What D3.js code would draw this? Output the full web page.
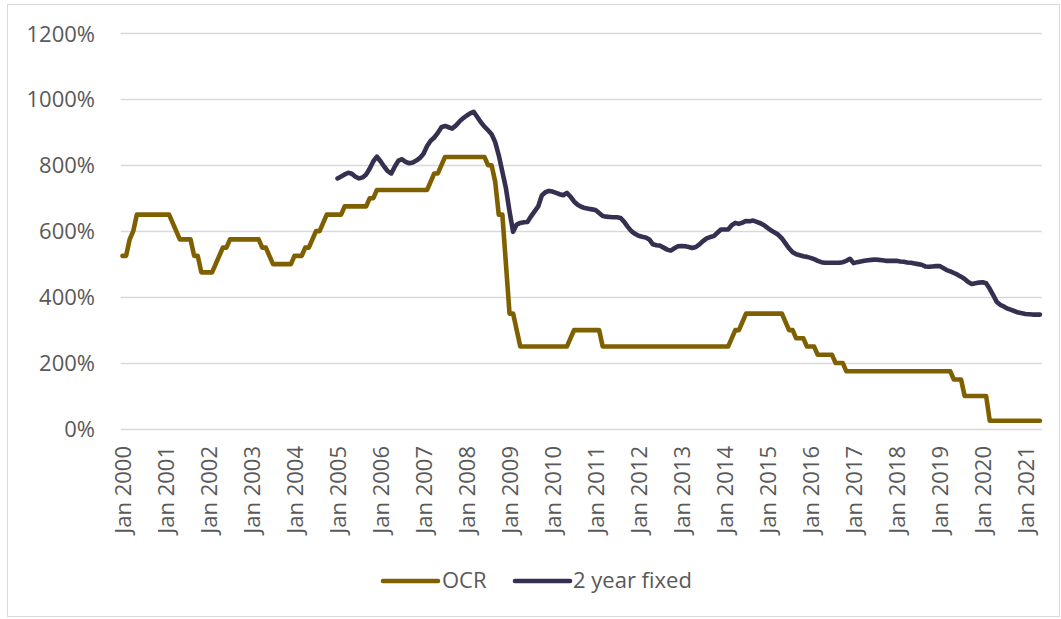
<!DOCTYPE html>
<html>
<head>
<meta charset="utf-8">
<script src="https://cdn.jsdelivr.net/npm/d3@7"></script>
<style>
  html, body { margin: 0; padding: 0; background: #fff; }
  svg { display: block; font-family: "Open Sans", "Noto Sans", sans-serif; }
</style>
</head>
<body>
<svg id="chart" width="1061" height="619"></svg>
<script>
// Monthly categories, Jan 2000 – May 2021
const monthNames = ["Jan","Feb","Mar","Apr","May","Jun","Jul","Aug","Sep","Oct","Nov","Dec"];
const startYear = 2000;
const monthCount = 257;
const months = d3.range(monthCount).map(i => `${monthNames[i % 12]} ${startYear + Math.floor(i / 12)}`);

// Axis tick labels
const xTickLabels = d3.range(2000, 2022).map(y => `Jan ${y}`);
const yTicks = [0, 2, 4, 6, 8, 10, 12];

// Official Cash Rate, one value per month
const ocr = [
  5.25, 5.25, 5.75, 6.00, 6.50, 6.50, 6.50, 6.50, 6.50, 6.50, 6.50, 6.50, // 2000
  6.50, 6.50, 6.25, 6.00, 5.75, 5.75, 5.75, 5.75, 5.25, 5.25, 4.75, 4.75, // 2001
  4.75, 4.75, 5.00, 5.25, 5.50, 5.50, 5.75, 5.75, 5.75, 5.75, 5.75, 5.75, // 2002
  5.75, 5.75, 5.75, 5.50, 5.50, 5.25, 5.00, 5.00, 5.00, 5.00, 5.00, 5.00, // 2003
  5.25, 5.25, 5.25, 5.50, 5.50, 5.75, 6.00, 6.00, 6.25, 6.50, 6.50, 6.50, // 2004
  6.50, 6.50, 6.75, 6.75, 6.75, 6.75, 6.75, 6.75, 6.75, 7.00, 7.00, 7.25, // 2005
  7.25, 7.25, 7.25, 7.25, 7.25, 7.25, 7.25, 7.25, 7.25, 7.25, 7.25, 7.25, // 2006
  7.25, 7.25, 7.50, 7.75, 7.75, 8.00, 8.25, 8.25, 8.25, 8.25, 8.25, 8.25, // 2007
  8.25, 8.25, 8.25, 8.25, 8.25, 8.25, 8.00, 8.00, 7.50, 6.50, 6.50, 5.00, // 2008
  3.50, 3.50, 3.00, 2.50, 2.50, 2.50, 2.50, 2.50, 2.50, 2.50, 2.50, 2.50, // 2009
  2.50, 2.50, 2.50, 2.50, 2.50, 2.75, 3.00, 3.00, 3.00, 3.00, 3.00, 3.00, // 2010
  3.00, 3.00, 2.50, 2.50, 2.50, 2.50, 2.50, 2.50, 2.50, 2.50, 2.50, 2.50, // 2011
  2.50, 2.50, 2.50, 2.50, 2.50, 2.50, 2.50, 2.50, 2.50, 2.50, 2.50, 2.50, // 2012
  2.50, 2.50, 2.50, 2.50, 2.50, 2.50, 2.50, 2.50, 2.50, 2.50, 2.50, 2.50, // 2013
  2.50, 2.50, 2.75, 3.00, 3.00, 3.25, 3.50, 3.50, 3.50, 3.50, 3.50, 3.50, // 2014
  3.50, 3.50, 3.50, 3.50, 3.50, 3.25, 3.00, 3.00, 2.75, 2.75, 2.75, 2.50, // 2015
  2.50, 2.50, 2.25, 2.25, 2.25, 2.25, 2.25, 2.00, 2.00, 2.00, 1.75, 1.75, // 2016
  1.75, 1.75, 1.75, 1.75, 1.75, 1.75, 1.75, 1.75, 1.75, 1.75, 1.75, 1.75, // 2017
  1.75, 1.75, 1.75, 1.75, 1.75, 1.75, 1.75, 1.75, 1.75, 1.75, 1.75, 1.75, // 2018
  1.75, 1.75, 1.75, 1.75, 1.50, 1.50, 1.50, 1.00, 1.00, 1.00, 1.00, 1.00, // 2019
  1.00, 1.00, 0.25, 0.25, 0.25, 0.25, 0.25, 0.25, 0.25, 0.25, 0.25, 0.25, // 2020
  0.25, 0.25, 0.25, 0.25, 0.25                                            // 2021
];

// Two-year fixed mortgage rate, monthly from Jan 2005
const twoYearStart = "Jan 2005";
const twoYearFixed = [
  7.60, 7.66, 7.72, 7.77, 7.74, 7.65, 7.60, 7.63, 7.72, 7.90, 8.12, 8.26, // 2005
  8.12, 7.96, 7.82, 7.75, 7.96, 8.14, 8.18, 8.10, 8.06, 8.08, 8.14, 8.22, // 2006
  8.35, 8.58, 8.74, 8.84, 8.98, 9.15, 9.19, 9.15, 9.11, 9.20, 9.32, 9.42, // 2007
  9.50, 9.57, 9.62, 9.46, 9.30, 9.17, 9.06, 8.94, 8.70, 8.30, 7.80, 7.30, // 2008
  6.60, 5.98, 6.20, 6.25, 6.27, 6.28, 6.45, 6.60, 6.75, 7.08, 7.18, 7.22, // 2009
  7.20, 7.16, 7.12, 7.09, 7.16, 7.05, 6.90, 6.80, 6.74, 6.70, 6.68, 6.66, // 2010
  6.64, 6.55, 6.46, 6.44, 6.43, 6.42, 6.42, 6.40, 6.28, 6.13, 6.00, 5.92, // 2011
  5.86, 5.83, 5.81, 5.75, 5.60, 5.57, 5.56, 5.50, 5.44, 5.41, 5.48, 5.54, // 2012
  5.55, 5.54, 5.52, 5.49, 5.52, 5.60, 5.70, 5.78, 5.82, 5.85, 5.95, 6.05, // 2013
  6.05, 6.05, 6.18, 6.25, 6.22, 6.26, 6.31, 6.30, 6.32, 6.28, 6.24, 6.18, // 2014
  6.10, 6.02, 5.96, 5.89, 5.78, 5.63, 5.48, 5.36, 5.30, 5.27, 5.24, 5.22, // 2015
  5.19, 5.15, 5.10, 5.06, 5.04, 5.04, 5.04, 5.04, 5.04, 5.06, 5.10, 5.16, // 2016
  5.03, 5.06, 5.08, 5.10, 5.12, 5.13, 5.14, 5.13, 5.12, 5.10, 5.10, 5.10, // 2017
  5.10, 5.08, 5.07, 5.05, 5.04, 5.02, 5.00, 4.98, 4.93, 4.92, 4.93, 4.94, // 2018
  4.94, 4.88, 4.82, 4.78, 4.73, 4.68, 4.62, 4.55, 4.46, 4.40, 4.42, 4.44, // 2019
  4.45, 4.42, 4.25, 4.05, 3.85, 3.76, 3.71, 3.65, 3.61, 3.57, 3.53, 3.51, // 2020
  3.49, 3.48, 3.47, 3.47, 3.47                                            // 2021
];

const seriesNames = ["OCR", "2 year fixed"];
const seriesColors = ["#7f6000", "#35304f"];

// Build per-series point lists
const offset = months.indexOf(twoYearStart);
const seriesData = [
  ocr.map((v, i) => ({ m: months[i], v })),
  twoYearFixed.map((v, i) => ({ m: months[offset + i], v }))
];

const svg = d3.select("#chart");
const plot = { left: 120.7, right: 1041.7, top: 33.3, bottom: 429 };

// Chart frame
svg.append("rect")
  .attr("x", 7.5).attr("y", 4.5)
  .attr("width", 1052).attr("height", 612)
  .attr("fill", "#fff").attr("stroke", "#d9d9d9").attr("stroke-width", 1);

const x = d3.scalePoint().domain(months).range([plot.left, plot.right]).padding(0.5);
const y = d3.scaleLinear().domain([0, 12]).range([plot.bottom, plot.top]);

// Horizontal gridlines + y labels
const yAxis = d3.axisLeft(y).tickValues(yTicks).tickSize(0).tickPadding(0)
  .tickFormat(d => `${Math.round(d * 100)}%`);
const gy = svg.append("g").attr("transform", `translate(95,0)`).call(yAxis);
gy.select(".domain").remove();
gy.selectAll("text").attr("font-size", 22).attr("fill", "#595959")
  .attr("font-family", "'Open Sans', sans-serif").attr("dy", "0.35em").attr("x", 0);

svg.append("g").selectAll("line").data(yTicks).join("line")
  .attr("x1", plot.left).attr("x2", plot.right)
  .attr("y1", d => Math.round(y(d)) + 0.5).attr("y2", d => Math.round(y(d)) + 0.5)
  .attr("stroke", "#d9d9d9").attr("stroke-width", 1.3);

// X labels, rotated
const xAxis = d3.axisBottom(x).tickValues(xTickLabels).tickSize(0).tickPadding(0);
const gx = svg.append("g").attr("transform", `translate(0,446)`).call(xAxis);
gx.select(".domain").remove();
gx.selectAll("text")
  .attr("font-size", 22).attr("fill", "#595959")
  .attr("font-family", "'Open Sans', sans-serif")
  .attr("text-anchor", "end")
  .attr("transform", "rotate(-90)")
  .attr("x", 0).attr("y", 0).attr("dy", "0.36em");

// Series lines
const line = d3.line().x(d => x(d.m)).y(d => y(d.v)).defined(d => d.v != null);
svg.append("g").selectAll("path").data(seriesData).join("path")
  .attr("d", line)
  .attr("fill", "none")
  .attr("stroke", (d, i) => seriesColors[i])
  .attr("stroke-width", 4.6)
  .attr("stroke-linejoin", "round")
  .attr("stroke-linecap", "round");

// Legend
const legendItems = [
  { x1: 383, x2: 438, tx: 442 },
  { x1: 515, x2: 570, tx: 573 }
];
const lg = svg.append("g");
legendItems.forEach((it, i) => {
  lg.append("line")
    .attr("x1", it.x1).attr("x2", it.x2).attr("y1", 581).attr("y2", 581)
    .attr("stroke", seriesColors[i]).attr("stroke-width", 4.6).attr("stroke-linecap", "round");
  lg.append("text")
    .attr("x", it.tx).attr("y", 580).attr("dy", "0.35em")
    .attr("font-size", 22).attr("fill", "#595959")
    .text(seriesNames[i]);
});
</script>
</body>
</html>
